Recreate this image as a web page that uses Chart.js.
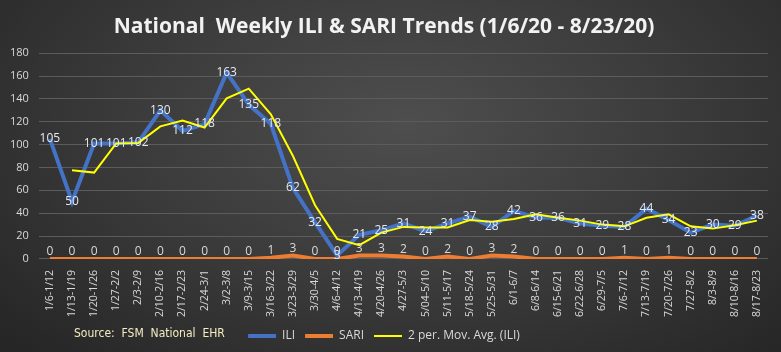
<!DOCTYPE html>
<html>
<head>
<meta charset="utf-8">
<script src="https://cdn.jsdelivr.net/npm/chart.js@4.4.1/dist/chart.umd.min.js"></script>
<style>
  html, body { margin: 0; padding: 0; }
  body {
    width: 781px; height: 352px; overflow: hidden;
    background: radial-gradient(ellipse 70% 90% at 52% 35%, #4e4e4e 0%, #3d3d3d 45%, #262626 100%);
  }
  #wrap { position: relative; width: 781px; height: 352px; }
</style>
</head>
<body>
<div id="wrap"><canvas id="chart" width="781" height="352"></canvas></div>
<script>
// week ranges on the x axis
const weeks = ['1/6-1/12', '1/13-1/19', '1/20-1/26', '1/27-2/2', '2/3-2/9', '2/10-2/16', '2/17-2/23',
    '2/24-3/1', '3/2-3/8', '3/9-3/15', '3/16-3/22', '3/23-3/29', '3/30-4/5', '4/6-4/12', '4/13-4/19',
    '4/20-4/26', '4/27-5/3', '5/04-5/10', '5/11-5/17', '5/18-5/24', '5/25-5/31', '6/1-6/7', '6/8-6/14',
    '6/15-6/21', '6/22-6/28', '6/29-7/5', '7/6-7/12', '7/13-7/19', '7/20-7/26', '7/27-8/2', '8/3-8/9',
    '8/10-8/16', '8/17-8/23'];

const ili = [105, 50, 101, 101, 102, 130, 112, 118, 163, 135, 118, 62, 32, 3, 21, 25, 31, 24, 31, 37,
    28, 42, 36, 36, 31, 29, 28, 44, 34, 23, 30, 29, 38];

const sari = [0, 0, 0, 0, 0, 0, 0, 0, 0, 0, 1, 3, 0, 0, 3, 3, 2, 0, 2, 0, 3, 2, 0, 0, 0, 0, 1, 0, 1,
    0, 0, 0, 0];

// 2 period moving average of ILI
const iliMovAvg = [null, 77.5, 75.5, 101, 101.5, 116, 121, 115, 140.5, 149, 126.5, 90, 47, 17.5, 12,
    23, 28, 27.5, 27.5, 34, 32.5, 35, 39, 36, 33.5, 30, 28.5, 36, 39, 28.5, 26.5, 29.5, 33.5];

const yTicks = [0, 20, 40, 60, 80, 100, 120, 140, 160, 180];

const textColor = '#d9d9d9';

/**
 * Draws the value labels: ILI centred on the point, SARI just above
 */
const valueLabels = {
    id: 'valueLabels',
    afterDatasetsDraw(chart) {
        let ctx = chart.ctx;
        ctx.save();
        ctx.font = '12px "Open Sans", sans-serif';
        ctx.textAlign = 'center';
        [0, 1].forEach(function (i) {
            let meta = chart.getDatasetMeta(i);
            let values = chart.data.datasets[i].data;
            meta.data.forEach(function (pt, j) {
                if (values[j] === null) return;
                if (i === 0) {
                    ctx.textBaseline = 'middle';
                    ctx.fillStyle = '#e4e9f4';
                    ctx.fillText(values[j], pt.x, pt.y);
                } else {
                    ctx.textBaseline = 'bottom';
                    ctx.fillStyle = textColor;
                    ctx.fillText(values[j], pt.x, pt.y - 1);
                }
            });
        });
        ctx.restore();
    }
};

/**
 * Source note bottom left
 */
const sourceNote = {
    id: 'sourceNote',
    afterDraw(chart) {
        let ctx = chart.ctx;
        ctx.save();
        ctx.font = '12px "Liberation Sans Narrow", "DejaVu Sans Condensed", sans-serif';
        ctx.fillStyle = '#f3ecc0';
        ctx.textBaseline = 'middle';
        ctx.fillText('Source:  FSM  National  EHR', 74, 334);
        ctx.restore();
    }
};

let graph_config = {
    type: 'line',
    data: {
        labels: weeks,
        datasets: [{
            label: 'ILI',
            data: ili,
            borderColor: '#4472c4',
            backgroundColor: '#4472c4',
            borderWidth: 4,
            pointRadius: 0,
            lineTension: 0,
            order: 2
        }, {
            label: 'SARI',
            data: sari,
            borderColor: '#ed7d31',
            backgroundColor: '#ed7d31',
            borderWidth: 4,
            pointRadius: 0,
            lineTension: 0,
            order: 3
        }, {
            label: '2 per. Mov. Avg. (ILI)',
            data: iliMovAvg,
            borderColor: '#ffff00',
            backgroundColor: '#ffff00',
            borderWidth: 2,
            pointRadius: 0,
            lineTension: 0,
            order: 1
        }]
    },
    options: {
        responsive: false,
        animation: false,
        layout: { padding: { left: 0, right: 13, top: 8, bottom: 0 } },
        plugins: {
            title: {
                display: true,
                text: 'National  Weekly ILI & SARI Trends (1/6/20 - 8/23/20)',
                color: '#f2f2f2',
                font: { family: '"Open Sans", sans-serif', size: 21, weight: 'bold' },
                padding: { top: 6, bottom: 14 }
            },
            legend: {
                position: 'bottom',
                labels: {
                    color: textColor,
                    font: { family: '"Open Sans", sans-serif', size: 12 },
                    usePointStyle: true,
                    pointStyle: 'line',
                    pointStyleWidth: 28,
                    boxHeight: 4,
                    padding: 10,
                    sort: function (a, b) { return a.datasetIndex - b.datasetIndex; }
                }
            },
            tooltip: { enabled: false }
        },
        scales: {
            x: {
                offset: true,
                grid: { display: false },
                border: { display: false },
                ticks: {
                    color: textColor,
                    font: { family: '"Open Sans", sans-serif', size: 10.5 },
                    maxRotation: 90,
                    minRotation: 90,
                    autoSkip: false,
                    padding: 3
                }
            },
            y: {
                min: 0,
                max: 180,
                afterBuildTicks: function (axis) {
                    axis.ticks = yTicks.map(function (v) { return { value: v }; });
                },
                grid: { color: '#5c5c5c', drawTicks: false },
                border: { display: false },
                ticks: {
                    color: textColor,
                    font: { family: '"Open Sans", sans-serif', size: 11 },
                    padding: 10
                }
            }
        }
    },
    plugins: [valueLabels, sourceNote]
};

new Chart(document.getElementById('chart').getContext('2d'), graph_config);
</script>
</body>
</html>
